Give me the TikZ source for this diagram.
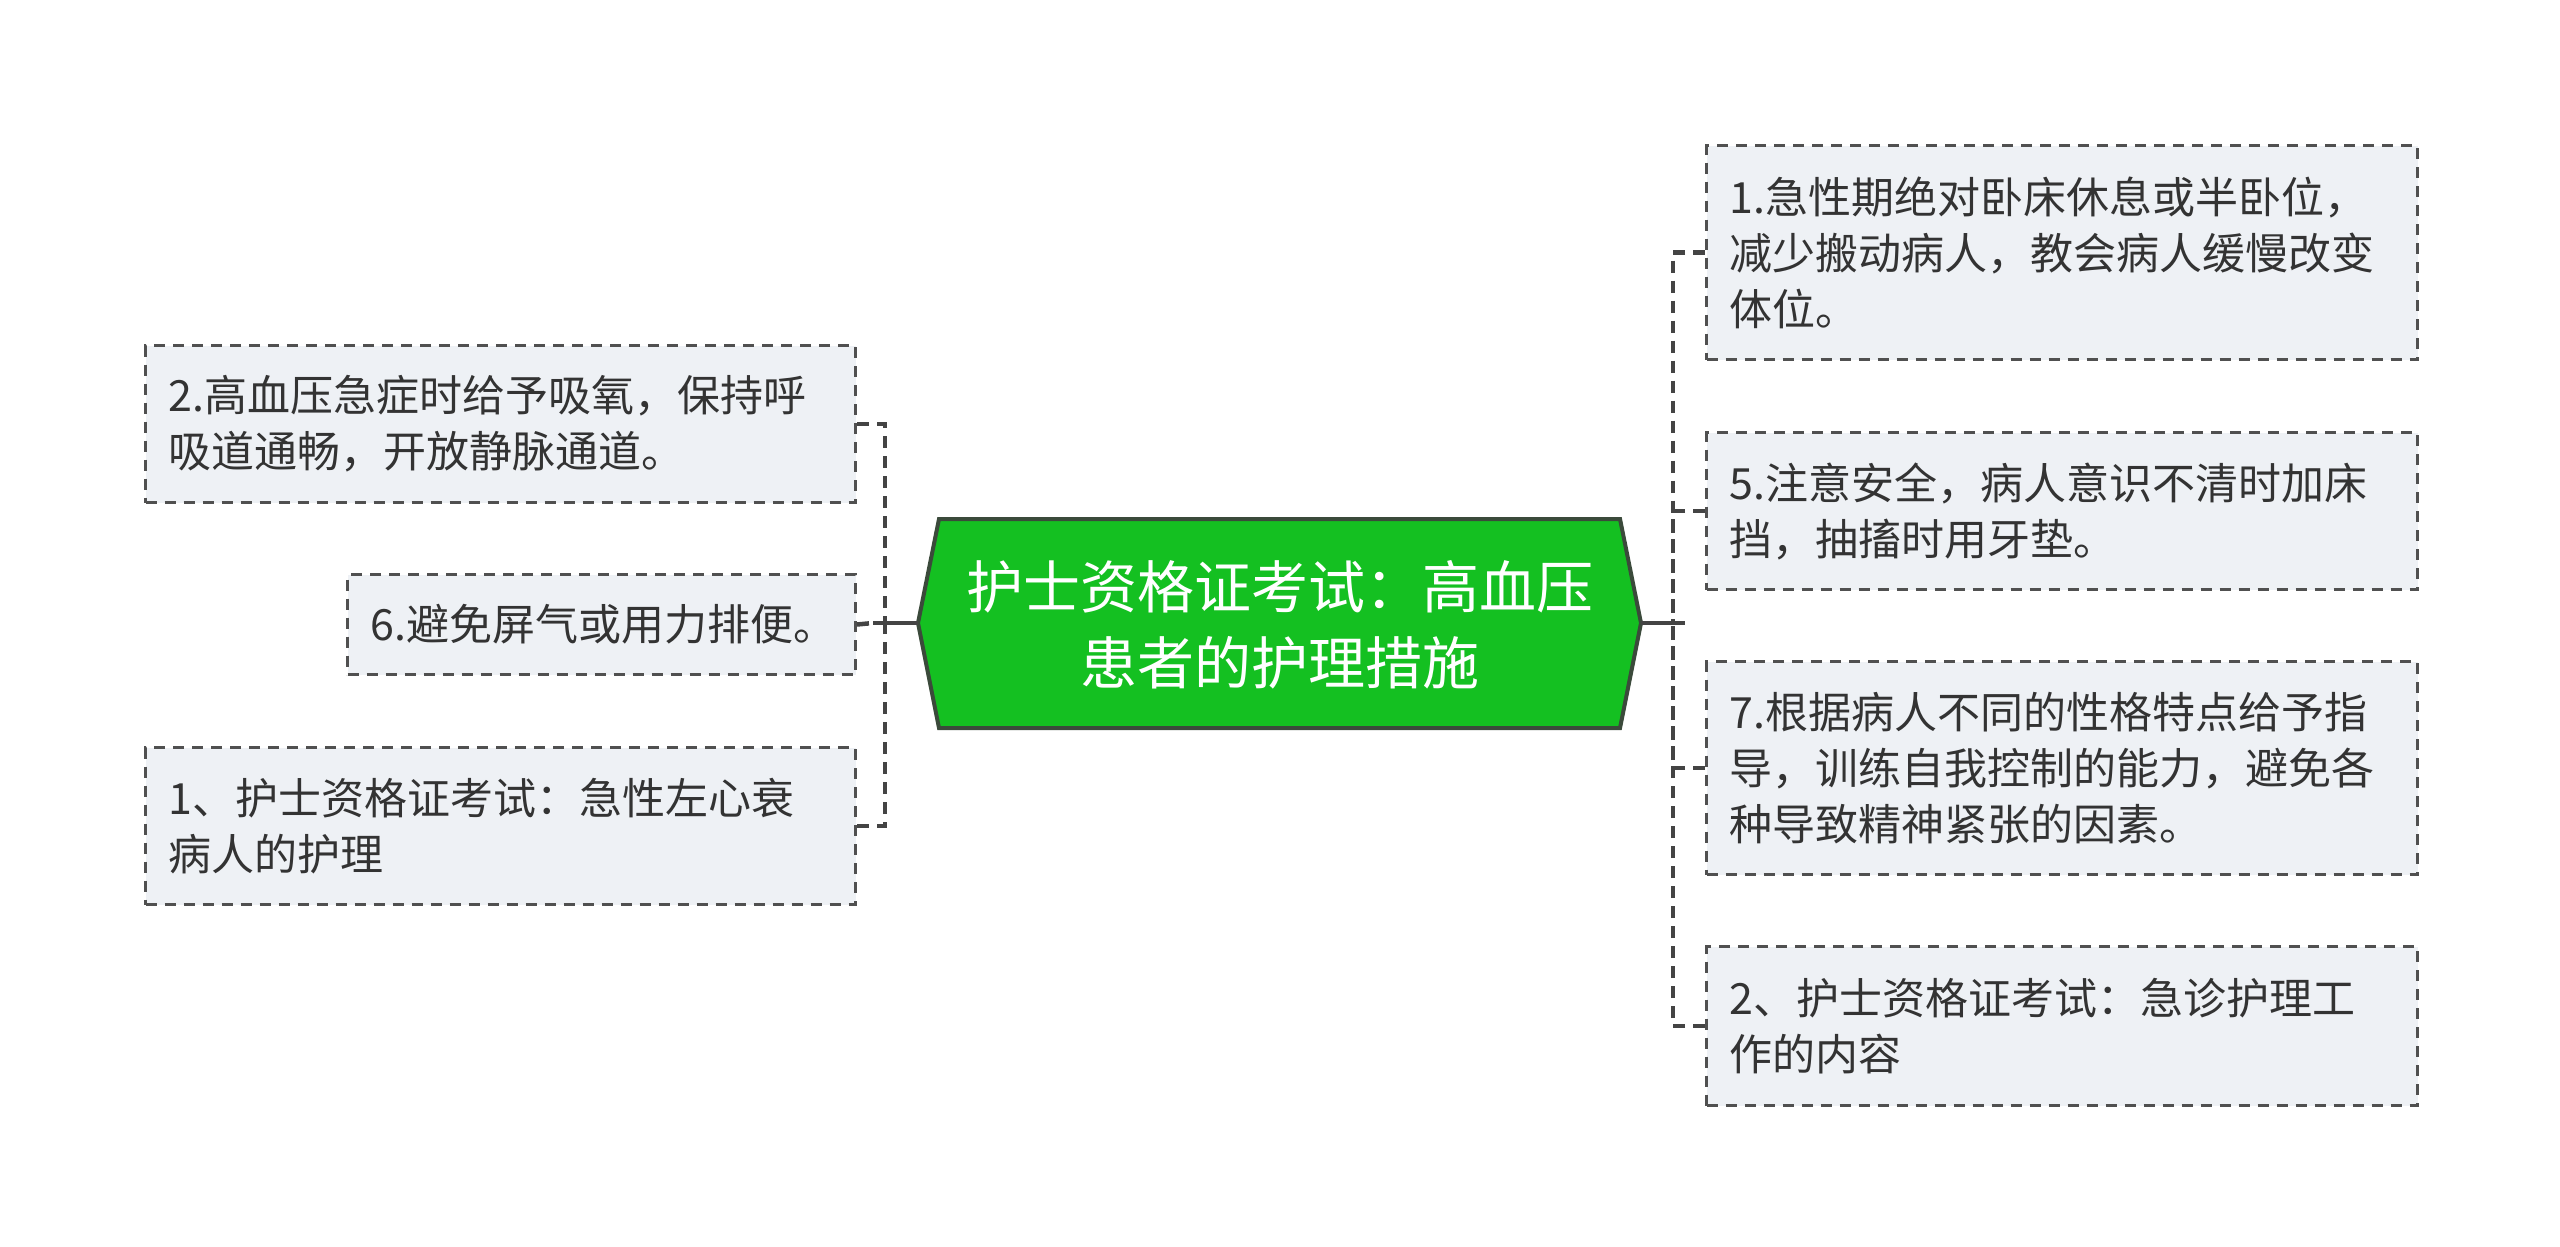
\documentclass[tikz,border=0pt]{standalone}
\usepackage{fontspec}
\setmainfont{Noto Sans CJK SC}
\definecolor{rootgreen}{HTML}{14C021}
\definecolor{rootedge}{HTML}{3B4A3B}
\definecolor{boxfill}{HTML}{EEF1F5}
\definecolor{boxedge}{HTML}{505050}
\definecolor{txt}{HTML}{333333}
\definecolor{linkc}{HTML}{444444}
\tikzset{
  leaf/.style={draw=boxedge, fill=boxfill, line width=3pt, dash pattern=on 11pt off 8pt,
    rectangle, anchor=north west, align=left, inner xsep=23pt, inner ysep=0pt,
    text=txt, font=\fontsize{43}{56}\selectfont},
  link/.style={draw=linkc, line width=4.5pt, dash pattern=on 12pt off 8pt},
  solidlink/.style={draw=linkc, line width=4.5pt},
}
\begin{document}
\begin{tikzpicture}[x=1pt,y=-1pt]
\useasboundingbox (0,0) rectangle (2560,1247);
% central hexagon
\coordinate (rootL) at (918,623);
\coordinate (rootR) at (1641,623);
\draw[fill=rootgreen, draw=rootedge, line width=4pt, line join=miter]
  (rootL) -- (939,519) -- (1620,519) -- (rootR) -- (1620,728) -- (939,728) -- cycle;
\node[text=white, align=center, font=\fontsize{57}{76}\selectfont] (root) at (1279.5,625)
  {护士资格证考试：高血压\\患者的护理措施};
% left leaves
\node[leaf, text width=664pt, minimum height=157pt] (l1) at (144,344)
  {2.高血压急症时给予吸氧，保持呼\\吸道通畅，开放静脉通道。};
\node[leaf, text width=462pt, minimum height=100pt] (l2) at (346,573)
  {6.避免屏气或用力排便。};
\node[leaf, text width=664pt, minimum height=157pt] (l3) at (144,746)
  {1、护士资格证考试：急性左心衰\\病人的护理};
% right leaves
\node[leaf, text width=665pt, minimum height=214pt] (r1) at (1705,144)
  {1.急性期绝对卧床休息或半卧位，\\减少搬动病人，教会病人缓慢改变\\体位。};
\node[leaf, text width=665pt, minimum height=157pt] (r2) at (1705,431)
  {5.注意安全，病人意识不清时加床\\挡，抽搐时用牙垫。};
\node[leaf, text width=665pt, minimum height=213pt] (r3) at (1705,660)
  {7.根据病人不同的性格特点给予指\\导，训练自我控制的能力，避免各\\种导致精神紧张的因素。};
\node[leaf, text width=665pt, minimum height=159pt] (r4) at (1705,945)
  {2、护士资格证考试：急诊护理工\\作的内容};
% left connectors
\coordinate (lt) at (885,623);
\coordinate (ls) at (873,623);
\draw[solidlink] (rootL) -- (ls);
\draw[link] (l1.east) -| (lt);
\draw[link] (l3.east) -| (lt);
\draw[link] (l2.east) -- (ls);
% right connectors
\coordinate (rt) at (1673,623);
\coordinate (rs) at (1685,623);
\draw[solidlink] (rootR) -- (rs);
\draw[link] (r1.west) -| (rt);
\draw[link] (r4.west) -| (rt);
\draw[link] (r2.west) -| (rt);
\draw[link] (r3.west) -| (rt);
\end{tikzpicture}
\end{document}
